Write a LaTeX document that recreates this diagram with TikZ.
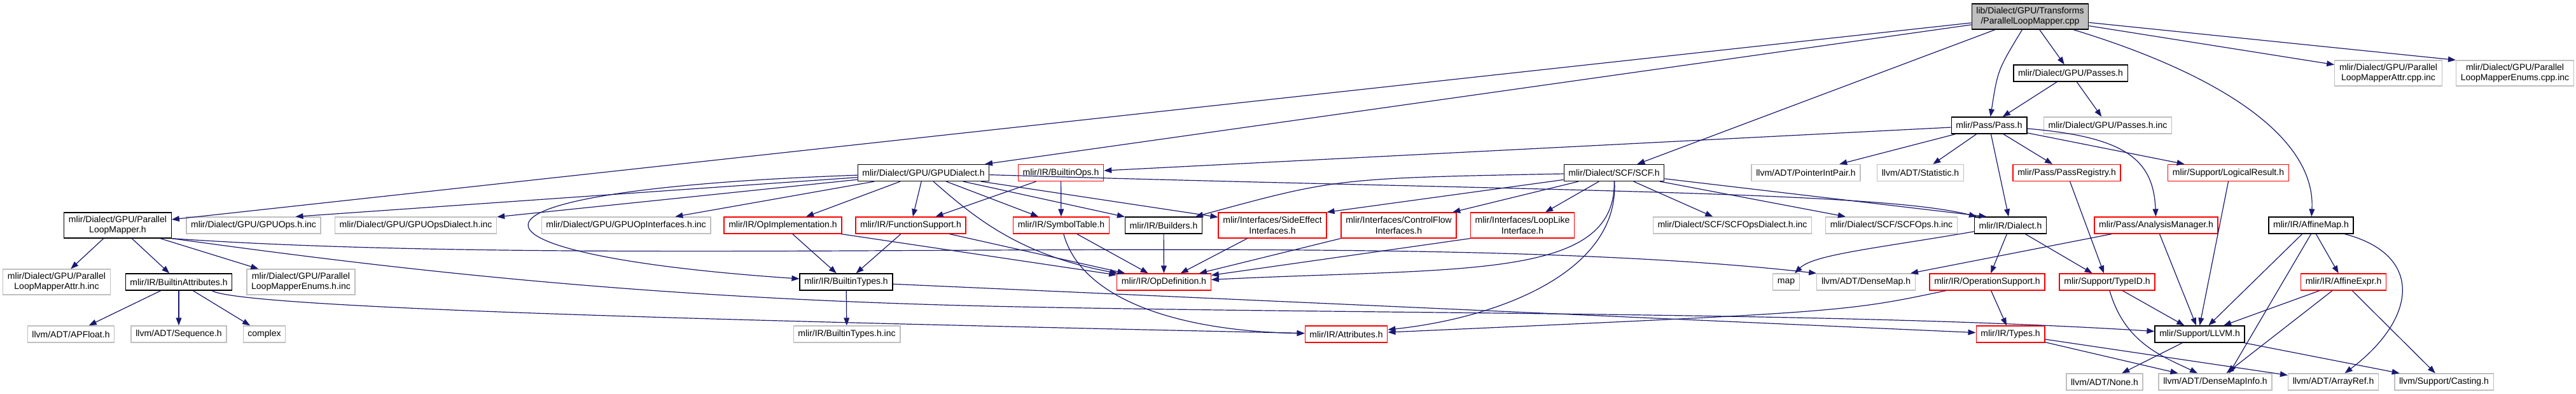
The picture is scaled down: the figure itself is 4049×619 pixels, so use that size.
\documentclass[tikz,border=0pt]{standalone}
\usepackage{fontspec}
\setmainfont{Liberation Sans}
\usetikzlibrary{arrows.meta}
\definecolor{edgeblue}{HTML}{191970}
\definecolor{leafgray}{HTML}{BFBFBF}
\definecolor{cutred}{HTML}{FF0000}

\begin{document}
\begin{tikzpicture}[x=0.5pt,y=-0.5pt,font=\fontsize{7}{8.2}\selectfont,>={Triangle[length=6pt,width=4.4pt]},
  hfile/.style={draw=black,line width=0.65pt,minimum height=13pt,inner xsep=3.6pt,inner ysep=1pt,align=center},
  hcut/.style={hfile,draw=cutred},
  hext/.style={hfile,draw=leafgray},
  hcur/.style={hfile,fill=leafgray},
  tall/.style={minimum height=20pt},
  dep/.style={->,draw=edgeblue,line width=0.6pt}]
\useasboundingbox (0,0) rectangle (4049,619);
\node[hcur,tall] (root) at (3191,26) {lib/Dialect/GPU/Transforms\\/ParallelLoopMapper.cpp};
\node[hfile] (passes) at (3254.5,115) {mlir/Dialect/GPU/Passes.h};
\node[hext,tall] (attrcpp) at (3754,115) {mlir/Dialect/GPU/Parallel\\LoopMapperAttr.cpp.inc};
\node[hext,tall] (enumcpp) at (3953,115) {mlir/Dialect/GPU/Parallel\\LoopMapperEnums.cpp.inc};
\node[hfile] (pass) at (3126.5,197) {mlir/Pass/Pass.h};
\node[hext] (passesinc) at (3313,197) {mlir/Dialect/GPU/Passes.h.inc};
\node[hfile] (gpud) at (1451.5,271.5) {mlir/Dialect/GPU/GPUDialect.h};
\node[hcut] (bops) at (1667.5,271.5) {mlir/IR/BuiltinOps.h};
\node[hfile] (scf) at (2537,271.5) {mlir/Dialect/SCF/SCF.h};
\node[hext] (pip) at (2838.5,271.5) {llvm/ADT/PointerIntPair.h};
\node[hext] (stat) at (3018.5,271.5) {llvm/ADT/Statistic.h};
\node[hcut] (preg) at (3248.5,271.5) {mlir/Pass/PassRegistry.h};
\node[hcut] (logres) at (3502.5,271.5) {mlir/Support/LogicalResult.h};
\node[hfile,tall] (plmh) at (185,354) {mlir/Dialect/GPU/Parallel\\LoopMapper.h};
\node[hext] (gpuopsinc) at (398.5,354) {mlir/Dialect/GPU/GPUOps.h.inc};
\node[hext] (gpuopsdialinc) at (653.5,354) {mlir/Dialect/GPU/GPUOpsDialect.h.inc};
\node[hext] (gpuopifinc) at (984,354) {mlir/Dialect/GPU/GPUOpInterfaces.h.inc};
\node[hcut] (opimpl) at (1230.5,354) {mlir/IR/OpImplementation.h};
\node[hcut] (funcsup) at (1431.5,354) {mlir/IR/FunctionSupport.h};
\node[hcut] (symtab) at (1668,354) {mlir/IR/SymbolTable.h};
\node[hfile] (builders) at (1829,354) {mlir/IR/Builders.h};
\node[hcut,tall] (sideeff) at (2000,354) {mlir/Interfaces/SideEffect\\Interfaces.h};
\node[hcut,tall] (cflow) at (2198.5,354) {mlir/Interfaces/ControlFlow\\Interfaces.h};
\node[hcut,tall] (looplike) at (2393,354) {mlir/Interfaces/LoopLike\\Interface.h};
\node[hext] (scfdialinc) at (2723,354) {mlir/Dialect/SCF/SCFOpsDialect.h.inc};
\node[hext] (scfopsinc) at (2973,354) {mlir/Dialect/SCF/SCFOps.h.inc};
\node[hfile] (dialect) at (3160,354) {mlir/IR/Dialect.h};
\node[hcut] (anman) at (3389,354) {mlir/Pass/AnalysisManager.h};
\node[hfile] (affmap) at (3632.5,354) {mlir/IR/AffineMap.h};
\node[hext,tall] (attrhinc) at (89,443) {mlir/Dialect/GPU/Parallel\\LoopMapperAttr.h.inc};
\node[hfile] (battr) at (281,443) {mlir/IR/BuiltinAttributes.h};
\node[hext,tall] (enumhinc) at (473,443) {mlir/Dialect/GPU/Parallel\\LoopMapperEnums.h.inc};
\node[hfile] (btypes) at (1330,443) {mlir/IR/BuiltinTypes.h};
\node[hcut] (opdef) at (1829.5,443) {mlir/IR/OpDefinition.h};
\node[hext] (map) at (2807.5,443) {map};
\node[hext] (densemap) at (2933,443) {llvm/ADT/DenseMap.h};
\node[hcut] (opsup) at (3123.5,443) {mlir/IR/OperationSupport.h};
\node[hcut] (typeid) at (3312,443) {mlir/Support/TypeID.h};
\node[hcut] (affexpr) at (3683.5,443) {mlir/IR/AffineExpr.h};
\node[hext] (apfloat) at (111.5,525) {llvm/ADT/APFloat.h};
\node[hext] (seq) at (281,525) {llvm/ADT/Sequence.h};
\node[hext] (complex) at (415.5,525) {complex};
\node[hext] (btypesinc) at (1331,525) {mlir/IR/BuiltinTypes.h.inc};
\node[hcut] (attrs) at (2116,525) {mlir/IR/Attributes.h};
\node[hcut] (types) at (3160,525) {mlir/IR/Types.h};
\node[hfile] (llvm) at (3457.5,525) {mlir/Support/LLVM.h};
\node[hext] (none) at (3308,600) {llvm/ADT/None.h};
\node[hext] (dmi) at (3482,600) {llvm/ADT/DenseMapInfo.h};
\node[hext] (arrayref) at (3667.5,600) {llvm/ADT/ArrayRef.h};
\node[hext] (casting) at (3841.5,600) {llvm/Support/Casting.h};

\draw[dep] (root) -- (plmh); \draw[dep] (root) -- (gpud); \draw[dep] (root) -- (scf);
\draw[dep] (root) .. controls (3140,110) .. (pass); \draw[dep] (root) -- (passes);
\draw[dep] (root) .. controls (3500,120) and (3640,220) .. (affmap);
\draw[dep] (root) -- (attrcpp); \draw[dep] (root) -- (enumcpp.north west);
\draw[dep] (passes) -- (pass); \draw[dep] (passes) -- (passesinc);
\draw[dep] (pass) -- (bops); \draw[dep] (pass) -- (pip); \draw[dep] (pass) -- (stat);
\draw[dep] (pass) -- (preg); \draw[dep] (pass) -- (logres); \draw[dep] (pass) -- (dialect);
\draw[dep] (pass) .. controls (3340,215) and (3385,250) .. (anman);
\draw[dep] (preg) -- (typeid); \draw[dep] (logres.south) -- (llvm.north);
\draw[dep] (anman) -- (densemap); \draw[dep] (anman) -- (llvm);
\draw[dep] (plmh) -- (attrhinc); \draw[dep] (plmh) -- (battr); \draw[dep] (plmh) -- (enumhinc);
\draw[dep] (plmh.south east) .. controls (1000,425) and (2200,355) .. (densemap.north west);
\draw[dep] (plmh.south east) .. controls (600,420) and (1000,470) .. (1600,482) .. controls (2200,494) and (2900,490) .. (llvm);
\draw[dep] (battr) -- (apfloat); \draw[dep] (battr) -- (seq); \draw[dep] (battr) -- (complex);
\draw[dep] ([xshift=26pt]battr.south) .. controls (380,485) and (1200,505) .. (attrs);
\draw[dep] (gpud) -- ([xshift=33pt]gpuopsinc.north); \draw[dep] (gpud) -- (gpuopsdialinc);
\draw[dep] (gpud) -- (gpuopifinc); \draw[dep] (gpud) -- (opimpl); \draw[dep] (gpud) -- (funcsup);
\draw[dep] (gpud) -- (symtab); \draw[dep] (gpud) -- (builders); \draw[dep] (gpud) -- (sideeff);
\draw[dep] (gpud) .. controls (1530,340) and (1600,400) .. (opdef);
\draw[dep] (gpud) .. controls (650,300) and (700,400) .. (btypes);
\draw[dep] (gpud) .. controls (2400,300) and (2950,300) .. (dialect);
\draw[dep] (bops) -- (funcsup); \draw[dep] (bops) -- (symtab);
\draw[dep] (opimpl) -- (btypes); \draw[dep] (opimpl) -- (opdef);
\draw[dep] (funcsup) -- (btypes); \draw[dep] (funcsup) -- (opdef);
\draw[dep] (symtab) -- (opdef); \draw[dep] (symtab) .. controls (1700,470) and (1850,520) .. (attrs);
\draw[dep] (builders) -- (opdef); \draw[dep] (sideeff) -- (opdef);
\draw[dep] (cflow.south west) -- (opdef); \draw[dep] (looplike.south west) -- (opdef);
\draw[dep] (scf) .. controls (2100,280) .. (builders); \draw[dep] (scf) -- (sideeff.north east);
\draw[dep] (scf) -- (cflow); \draw[dep] (scf) -- (looplike);
\draw[dep] (scf) .. controls (2540,440) and (2300,420) .. (opdef);
\draw[dep] (scf) .. controls (2545,430) and (2350,500) .. (attrs);
\draw[dep] (scf) -- (scfdialinc); \draw[dep] (scf) -- (scfopsinc); \draw[dep] (scf) -- (dialect.160);
\draw[dep] (btypes) -- (btypesinc); \draw[dep] (btypes) -- (types);
\draw[dep] (dialect) .. controls (2950,390) and (2850,400) .. (map);
\draw[dep] (dialect) -- (opsup); \draw[dep] (dialect) -- (typeid);
\draw[dep] (opsup) -- (types); \draw[dep] (opsup) .. controls (2900,490) .. (attrs);
\draw[dep] (typeid) -- (llvm); \draw[dep] (typeid) .. controls (3340,540) and (3400,560) .. (dmi);
\draw[dep] (types) -- (dmi); \draw[dep] (types) -- (arrayref);
\draw[dep] (llvm) -- (none); \draw[dep] (llvm) -- (casting);
\draw[dep] (affmap) -- (llvm); \draw[dep] (affmap.south) -- ([xshift=11pt]dmi.north);
\draw[dep] (affmap) -- (affexpr); \draw[dep] (affmap) .. controls (3810,400) and (3800,500) .. (arrayref);
\draw[dep] (affexpr) -- (llvm); \draw[dep] (affexpr) -- (dmi); \draw[dep] (affexpr) -- (casting);
\end{tikzpicture}
\end{document}
